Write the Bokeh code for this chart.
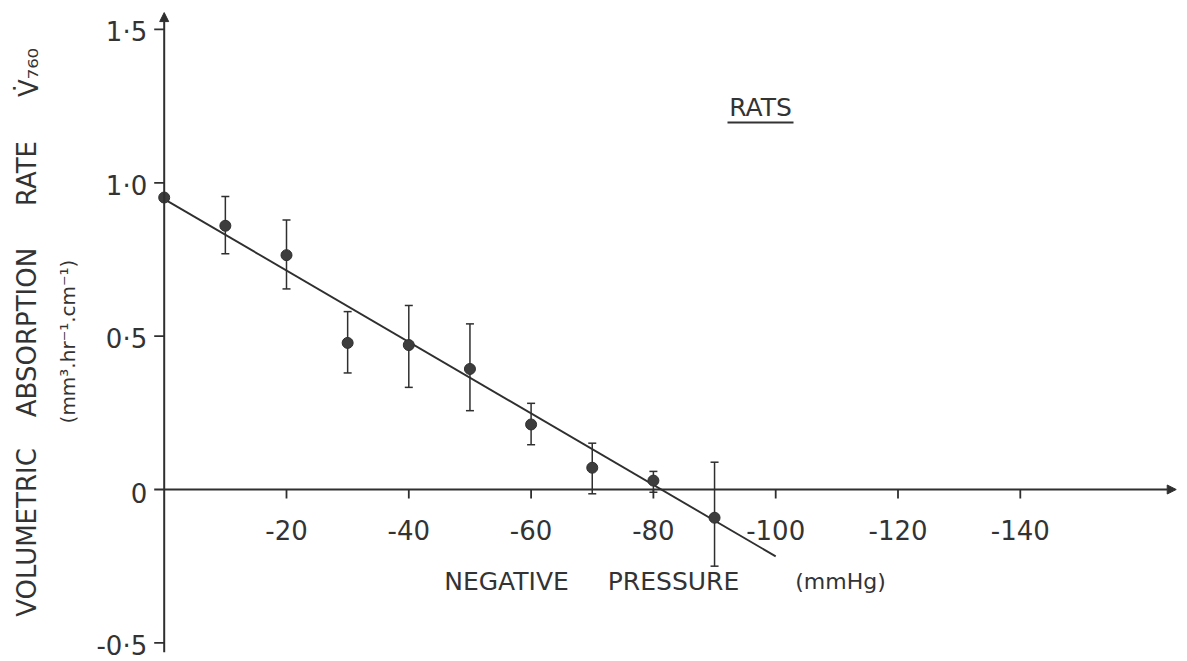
import math
from bokeh.plotting import figure
from bokeh.models import Range1d, ColumnDataSource, Whisker, TeeHead, Arrow, NormalHead
from bokeh.core.properties import value
from bokeh.embed import file_html
from bokeh.resources import INLINE

# ---- data ----
pressure = [0, -10, -20, -30, -40, -50, -60, -70, -80, -90]
rate = [0.952, 0.86, 0.764, 0.478, 0.471, 0.393, 0.212, 0.071, 0.029, -0.092]
rate_upper = [0.952, 0.955, 0.879, 0.58, 0.60, 0.54, 0.281, 0.151, 0.059, 0.089]
rate_lower = [0.952, 0.769, 0.654, 0.38, 0.333, 0.257, 0.146, -0.014, -0.009, -0.25]
fit_x = [0, -100]
fit_y = [0.947, -0.218]

x_ticks = [-20, -40, -60, -80, -100, -120, -140]
x_tick_labels = ["-20", "-40", "-60", "-80", "-100", "-120", "-140"]
y_ticks = [1.5, 1.0, 0.5, 0, -0.5]
y_tick_labels = ["1·5", "1·0", "0·5", "0", "-0·5"]

# ---- scale helpers (pixels per data unit) ----
W, H = 1187, 661
PX_X = 6.115
PX_Y = 306.7
X0_PX = 163.7
Y0_PX = 489.0

INK = "#2f2f2f"
TXT = "#333333"
FONT = value("DejaVu Sans")

p = figure(width=W, height=H, output_backend="svg", toolbar_location=None,
           x_axis_type=None, y_axis_type=None,
           x_range=Range1d(X0_PX / PX_X, -(W - X0_PX) / PX_X),
           y_range=Range1d(-(H - Y0_PX) / PX_Y, Y0_PX / PX_Y),
           min_border=0, min_border_left=0, min_border_right=0,
           min_border_top=0, min_border_bottom=0)
p.outline_line_color = None
p.grid.visible = False
p.background_fill_color = "white"
p.border_fill_color = "white"

# axes with arrow heads
p.add_layout(Arrow(end=NormalHead(size=9, fill_color=INK, line_color=INK),
                   x_start=0, y_start=-0.531, x_end=0, y_end=1.555,
                   line_color=INK, line_width=2))
p.add_layout(Arrow(end=NormalHead(size=9, fill_color=INK, line_color=INK),
                   x_start=0, y_start=0, x_end=-165.5, y_end=0,
                   line_color=INK, line_width=2))

# tick marks
p.segment(x0=x_ticks, x1=x_ticks, y0=[0] * len(x_ticks),
          y1=[-9 / PX_Y] * len(x_ticks), line_color=INK, line_width=1.8)
p.segment(x0=[0] * len(y_ticks), x1=[10 / PX_X] * len(y_ticks),
          y0=y_ticks, y1=y_ticks, line_color=INK, line_width=1.8)

# tick labels
p.text(x=x_ticks, y=[0] * len(x_ticks), text=x_tick_labels, y_offset=40,
       text_align="center", text_baseline="middle", text_font=FONT,
       text_font_size=value("26px"), text_color=TXT)
p.text(x=[0] * len(y_ticks), y=y_ticks, text=y_tick_labels, x_offset=-17, y_offset=3,
       text_align="right", text_baseline="middle", text_font=FONT,
       text_font_size=value("26px"), text_color=TXT)

# fitted line
p.line(fit_x, fit_y, line_color=INK, line_width=1.9)

# error bars and points
src = ColumnDataSource(dict(x=pressure, y=rate, upper=rate_upper, lower=rate_lower))
p.add_layout(Whisker(base="x", upper="upper", lower="lower", source=src,
                     line_color=INK, line_width=1.5,
                     upper_head=TeeHead(size=8, line_color=INK, line_width=1.5),
                     lower_head=TeeHead(size=8, line_color=INK, line_width=1.5)))
p.scatter("x", "y", source=src, size=11, fill_color="#3d3d3d", line_color=INK)

# x axis title words
def px_to_x(px):
    return -(px - X0_PX) / PX_X

def py_to_y(py):
    return (Y0_PX - py) / PX_Y

p.text(x=[px_to_x(506), px_to_x(673)], y=[py_to_y(581)] * 2,
       text=["NEGATIVE", "PRESSURE"], text_align="center", text_baseline="middle",
       text_font=FONT, text_font_size=value("25px"), text_color=TXT)
p.text(x=[px_to_x(840)], y=[py_to_y(581)], text=["(mmHg)"], text_align="center",
       text_baseline="middle", text_font=FONT, text_font_size=value("22px"), text_color=TXT)

# y axis title (rotated)
p.text(x=[px_to_x(26)] * 3, y=[py_to_y(532), py_to_y(332), py_to_y(173)],
       text=["VOLUMETRIC", "ABSORPTION", "RATE"], angle=math.pi / 2,
       text_align="center", text_baseline="middle", text_font=FONT,
       text_font_size=value("26px"), text_color=TXT)
p.text(x=[px_to_x(28)], y=[py_to_y(72)], text=["V̇₇₆₀"], angle=math.pi / 2,
       text_align="center", text_baseline="middle", text_font=FONT,
       text_font_size=value("26px"), text_color=TXT)
p.text(x=[px_to_x(67)], y=[py_to_y(341)], text=["(mm³.hr⁻¹.cm⁻¹)"], angle=math.pi / 2,
       text_align="center", text_baseline="middle", text_font=FONT,
       text_font_size=value("20px"), text_color=TXT)

# RATS label, underlined
p.text(x=[px_to_x(760)], y=[py_to_y(107)], text=["RATS"], text_align="center",
       text_baseline="middle", text_font=FONT, text_font_size=value("25px"), text_color=TXT)
p.segment(x0=[px_to_x(727)], x1=[px_to_x(793)], y0=[py_to_y(122)], y1=[py_to_y(122)],
          line_color=TXT, line_width=2.2)

open("out.html", "w").write(file_html(p, INLINE))
